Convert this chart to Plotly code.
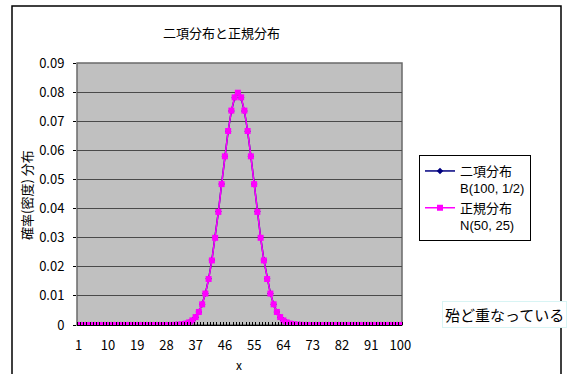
import plotly.graph_objects as go

x_vals = list(range(1, 101))

binom_vals = [
    0, 0, 0, 0, 0, 0, 0, 0, 0, 0,
    0, 0, 0, 0, 0, 0, 0, 0, 0, 0,
    0, 0, 0, 0, 0, 0, 0, 0, 0.00001, 0.00002,
    0.00005, 0.00011, 0.00023, 0.00046, 0.00086, 0.00156, 0.00270, 0.00447, 0.00711, 0.01084,
    0.01587, 0.02229, 0.03007, 0.03895, 0.04847, 0.05796, 0.06659, 0.07353, 0.07803, 0.07959,
    0.07803, 0.07353, 0.06659, 0.05796, 0.04847, 0.03895, 0.03007, 0.02229, 0.01587, 0.01084,
    0.00711, 0.00447, 0.00270, 0.00156, 0.00086, 0.00046, 0.00023, 0.00011, 0.00005, 0.00002,
    0.00001, 0, 0, 0, 0, 0, 0, 0, 0, 0,
    0, 0, 0, 0, 0, 0, 0, 0, 0, 0,
    0, 0, 0, 0, 0, 0, 0, 0, 0, 0,
]

normal_vals = [
    0, 0, 0, 0, 0, 0, 0, 0, 0, 0,
    0, 0, 0, 0, 0, 0, 0, 0, 0, 0,
    0, 0, 0, 0, 0, 0, 0, 0, 0.00001, 0.00003,
    0.00006, 0.00012, 0.00025, 0.00048, 0.00089, 0.00158, 0.00272, 0.00448, 0.00710, 0.01080,
    0.01579, 0.02218, 0.02995, 0.03884, 0.04839, 0.05794, 0.06664, 0.07365, 0.07821, 0.07979,
    0.07821, 0.07365, 0.06664, 0.05794, 0.04839, 0.03884, 0.02995, 0.02218, 0.01579, 0.01080,
    0.00710, 0.00448, 0.00272, 0.00158, 0.00089, 0.00048, 0.00025, 0.00012, 0.00006, 0.00003,
    0.00001, 0, 0, 0, 0, 0, 0, 0, 0, 0,
    0, 0, 0, 0, 0, 0, 0, 0, 0, 0,
    0, 0, 0, 0, 0, 0, 0, 0, 0, 0,
]

x_tick_vals = [1, 10, 19, 28, 37, 46, 55, 64, 73, 82, 91, 100]
y_tick_vals = [0, 0.01, 0.02, 0.03, 0.04, 0.05, 0.06, 0.07, 0.08, 0.09]
y_tick_text = ["0", "0.01", "0.02", "0.03", "0.04", "0.05", "0.06", "0.07", "0.08", "0.09"]

series_names = ["二項分布", "正規分布"]
series_params = ["B(100, 1/2)", "N(50, 25)"]

FONT = "Noto Sans CJK JP"
LATIN = "Liberation Sans"

def legend_name(name, param):
    return f'{name}<br><span style="font-family:{LATIN}">{param}</span>'

fig = go.Figure()
fig.add_trace(go.Scatter(
    x=x_vals, y=binom_vals, mode="lines+markers",
    name=legend_name(series_names[0], series_params[0]),
    line=dict(color="#000080", width=1.5),
    marker=dict(symbol="diamond", size=5, color="#000080"),
))
fig.add_trace(go.Scatter(
    x=x_vals, y=normal_vals, mode="lines+markers",
    name=legend_name(series_names[1], series_params[1]),
    line=dict(color="#FF00FF", width=1.5),
    marker=dict(symbol="square", size=6, color="#FF00FF"),
))

L, T, R, B = 77, 63, 402, 325
W, H = 569, 374
pw, ph = R - L, B - T

def px(xp):
    return (xp - L) / pw

def py(yp):
    return (B - yp) / ph

fig.update_layout(
    width=W, height=H,
    margin=dict(l=L, r=W - R, t=T, b=H - B, pad=0),
    paper_bgcolor="white",
    plot_bgcolor="#C0C0C0",
    font=dict(family=FONT, size=12, color="black"),
    showlegend=True,
    legend=dict(
        x=px(419), y=py(155), xanchor="left", yanchor="top",
        bordercolor="black", borderwidth=1, bgcolor="white",
        font=dict(family=FONT, size=13, color="black"),
        tracegroupgap=0, valign="top",
    ),
    xaxis=dict(
        range=[0.5, 100.5], tickmode="array", tickvals=x_tick_vals,
        ticktext=[str(v) for v in x_tick_vals],
        showgrid=False, zeroline=False,
        showline=True, linecolor="black", linewidth=1,
        ticks="", tickfont=dict(family=FONT, size=13),
        minor=dict(ticks="inside", tick0=0.5, dtick=1, ticklen=3,
                   tickcolor="black", tickwidth=1, showgrid=False),
        ticklabelstandoff=8,
    ),
    yaxis=dict(
        range=[0, 0.09], tickmode="array", tickvals=y_tick_vals, ticktext=y_tick_text,
        showgrid=True, gridcolor="#4A4A4A", gridwidth=1, zeroline=False,
        showline=False, ticks="outside", ticklen=3, tickcolor="black",
        tickfont=dict(family=FONT, size=13), ticklabelstandoff=6,
    ),
    shapes=[
        dict(type="rect", xref="paper", yref="paper", x0=0, x1=1, y0=0, y1=1,
             line=dict(color="#6A6A6A", width=1.5), layer="below"),
        dict(type="rect", xref="paper", yref="paper",
             x0=px(12), x1=px(561), y0=py(390), y1=py(6),
             line=dict(color="black", width=1.5), fillcolor="rgba(0,0,0,0)"),
    ],
    annotations=[
        dict(text="二項分布と正規分布", xref="paper", yref="paper",
             x=px(221), y=py(33), xanchor="center", yanchor="middle",
             showarrow=False, font=dict(family=FONT, size=13)),
        dict(text="確率(密度) 分布", xref="paper", yref="paper",
             x=px(26), y=py(195), xanchor="center", yanchor="middle",
             textangle=-90, showarrow=False, font=dict(family=FONT, size=13)),
        dict(text="x", xref="paper", yref="paper",
             x=px(239), y=py(364), xanchor="center", yanchor="middle",
             showarrow=False, font=dict(family=FONT, size=12)),
        dict(text="殆ど重なっている", xref="paper", yref="paper",
             x=px(504), y=py(314), xanchor="center", yanchor="middle",
             showarrow=False, font=dict(family=FONT, size=15),
             bordercolor="#D8F4F4", borderwidth=1, bgcolor="white", borderpad=2),
    ],
)

fig.write_html("out.html")
